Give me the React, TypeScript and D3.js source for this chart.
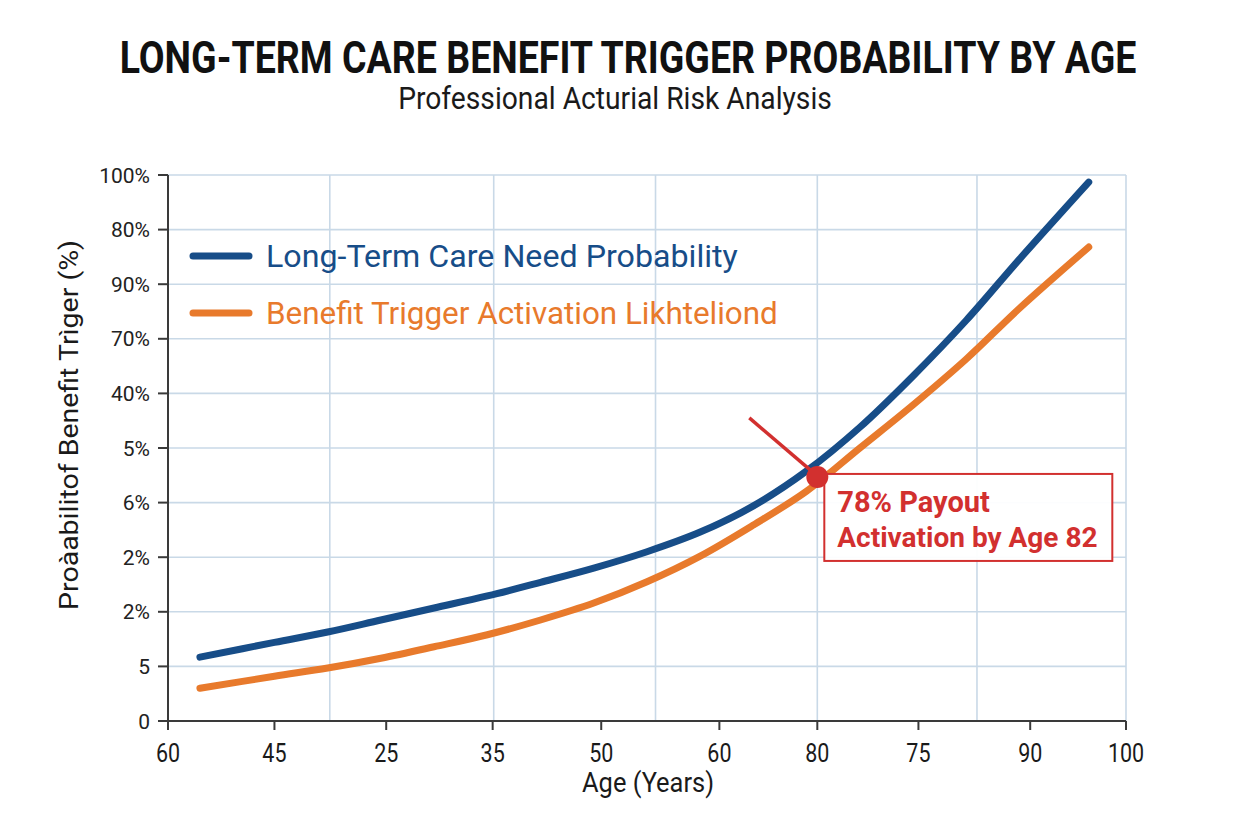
import React, { useLayoutEffect, useRef, useState } from 'react';
import * as d3 from 'd3';

// Axis tick labels and where they sit on the age / probability scales
const ageTickLabels = ['60', '45', '25', '35', '50', '60', '80', '75', '90', '100'];
const ageTickAt = [0, 1, 2.05, 3.05, 4.07, 5.18, 6.1, 7.05, 8.1, 9];
const ageGridAt = [1.52, 3.06, 4.58, 6.1, 7.6, 9];
const probTickLabels = ['0', '5', '2%', '2%', '6%', '5%', '40%', '70%', '90%', '80%', '100%'];
const probTickAt = [0, 10, 20, 30, 40, 50, 60, 70, 80, 90, 100];

// Sampled age steps shared by both series
const ageStep = [0.3, 1, 1.5, 2, 2.5, 3, 3.5, 4, 4.5, 5, 5.5, 6, 6.5, 7, 7.5, 8, 8.65];
const careNeed = [11.7, 14.4, 16.3, 18.5, 20.7, 22.9, 25.4, 28.0, 31.0, 34.6, 39.4, 45.8, 53.8, 63.2, 73.4, 84.6, 98.7];
const triggerLikelihood = [6.0, 8.2, 9.7, 11.5, 13.6, 15.8, 18.5, 21.6, 25.5, 30.2, 35.9, 42.1, 50.0, 57.9, 66.3, 75.6, 86.8];

// Payout activation callout
const calloutStep = [6.1];
const calloutValue = [44.7];
const calloutLines = ['78% Payout', 'Activation by Age 82'];

const seriesNames = ['Long-Term Care Need Probability', 'Benefit Trigger Activation Likhteliond'];

const W = 1248;
const H = 832;
const M = { left: 168, right: 1126, top: 175, bottom: 721 };

const BLUE = '#174d88';
const ORANGE = '#e87a2c';
const RED = '#d2302f';
const GRID = '#c9d9e7';
const AXIS = '#3a3a3a';
const FONT = 'Roboto, "Noto Sans", sans-serif';

type FitTextProps = {
  x: number;
  y: number;
  width: number;
  anchor?: 'start' | 'middle' | 'end';
  rotate?: number;
  children: string;
  [key: string]: any;
};

// Text squeezed horizontally to a given width (a condensed look without a condensed face)
function FitText({ x, y, width, anchor = 'start', rotate = 0, children, ...rest }: FitTextProps) {
  const ref = useRef<SVGTextElement>(null);
  const [sx, setSx] = useState(1);
  useLayoutEffect(() => {
    if (ref.current) {
      const natural = ref.current.getComputedTextLength();
      if (natural > 0) setSx(width / natural);
    }
  }, [width, children]);
  return (
    <g transform={`translate(${x},${y}) rotate(${rotate}) scale(${sx},1)`}>
      <text ref={ref} x={0} y={0} textAnchor={anchor} {...rest}>
        {children}
      </text>
    </g>
  );
}

export default function App() {
  const x = d3.scaleLinear().domain([0, 9]).range([M.left, M.right]);
  const y = d3.scaleLinear().domain([0, 100]).range([M.bottom, M.top]);

  const line = d3
    .line<[number, number]>()
    .x((d) => x(d[0]))
    .y((d) => y(d[1]))
    .curve(d3.curveCatmullRom.alpha(0.5));

  const careData = ageStep.map((s, i) => [s, careNeed[i]] as [number, number]);
  const trigData = ageStep.map((s, i) => [s, triggerLikelihood[i]] as [number, number]);

  const cx = x(calloutStep[0]);
  const cy = y(calloutValue[0]);

  return (
    <svg
      width={W}
      height={H}
      viewBox={`0 0 ${W} ${H}`}
      style={{ position: 'absolute', left: 0, top: 0, display: 'block', background: '#fff' }}
    >
      <rect x={0} y={0} width={W} height={H} fill="#fff" />

      {/* Titles */}
      <FitText x={628} y={73} width={1017} anchor="middle" fontFamily={FONT} fontWeight={700} fontSize={45} fill="#111">
        LONG-TERM CARE BENEFIT TRIGGER PROBABILITY BY AGE
      </FitText>
      <FitText x={615} y={109} width={434} anchor="middle" fontFamily={FONT} fontSize={31} fill="#1a1a1a">
        Professional Acturial Risk Analysis
      </FitText>

      {/* Grid */}
      <g>
        {probTickAt.map((v, i) => (
          <line key={`h${i}`} x1={M.left} x2={M.right} y1={y(v)} y2={y(v)} stroke={GRID} strokeWidth={1.6} />
        ))}
        {ageGridAt.map((v, i) => (
          <line key={`v${i}`} x1={x(v)} x2={x(v)} y1={M.top} y2={M.bottom} stroke={GRID} strokeWidth={1.6} />
        ))}
      </g>

      {/* Axes */}
      <line x1={M.left} x2={M.left} y1={M.top} y2={M.bottom} stroke={AXIS} strokeWidth={2} />
      <line x1={M.left - 9} x2={M.right} y1={M.bottom} y2={M.bottom} stroke={AXIS} strokeWidth={2} />
      {probTickAt.map((v, i) => (
        <g key={`yt${i}`}>
          <line x1={M.left - 10} x2={M.left} y1={y(v)} y2={y(v)} stroke={AXIS} strokeWidth={2} />
          <text x={150} y={y(v)} dy="0.36em" textAnchor="end" fontFamily={FONT} fontSize={21} fill="#222">
            {probTickLabels[i]}
          </text>
        </g>
      ))}
      {ageTickAt.map((v, i) => (
        <g key={`xt${i}`} transform={`translate(${x(v)},0)`}>
          <line x1={0} x2={0} y1={M.bottom} y2={M.bottom + 9} stroke={AXIS} strokeWidth={2} />
          <text transform="scale(0.86,1)" x={0} y={762} textAnchor="middle" fontFamily={FONT} fontSize={25} fill="#1a1a1a">
            {ageTickLabels[i]}
          </text>
        </g>
      ))}

      <FitText x={648} y={792} width={132} anchor="middle" fontFamily={FONT} fontSize={28} fill="#1a1a1a">
        Age (Years)
      </FitText>
      <FitText x={78} y={425} width={370} rotate={-90} anchor="middle" fontFamily={FONT} fontSize={26} fill="#1a1a1a">
        Proàabilitof Benefit Trìger (%)
      </FitText>

      {/* Legend */}
      <line x1={193} x2={249} y1={256} y2={256} stroke={BLUE} strokeWidth={7} strokeLinecap="round" />
      <FitText x={266} y={267} width={472} fontFamily={FONT} fontSize={31} fill={BLUE}>
        {seriesNames[0]}
      </FitText>
      <line x1={193} x2={249} y1={313} y2={313} stroke={ORANGE} strokeWidth={7} strokeLinecap="round" />
      <FitText x={266} y={324} width={512} fontFamily={FONT} fontSize={31} fill={ORANGE}>
        {seriesNames[1]}
      </FitText>

      {/* Series */}
      <path d={line(trigData) || ''} fill="none" stroke={ORANGE} strokeWidth={7} strokeLinecap="round" />
      <path d={line(careData) || ''} fill="none" stroke={BLUE} strokeWidth={7} strokeLinecap="round" />

      {/* Callout */}
      <line x1={cx - 68} x2={cx - 6} y1={cy - 59} y2={cy - 6} stroke={RED} strokeWidth={3.5} />
      <rect x={cx + 7} y={cy - 3} width={288} height={87} fill="#fff" fillOpacity={0.95} stroke={RED} strokeWidth={2} />
      <circle cx={cx} cy={cy} r={11} fill={RED} />
      <text x={cx + 20} y={cy + 35} fontFamily={FONT} fontWeight={700} fontSize={29} fill={RED}>
        {calloutLines[0]}
      </text>
      <text x={cx + 20} y={cy + 70} fontFamily={FONT} fontWeight={700} fontSize={28} fill={RED}>
        {calloutLines[1]}
      </text>
    </svg>
  );
}
